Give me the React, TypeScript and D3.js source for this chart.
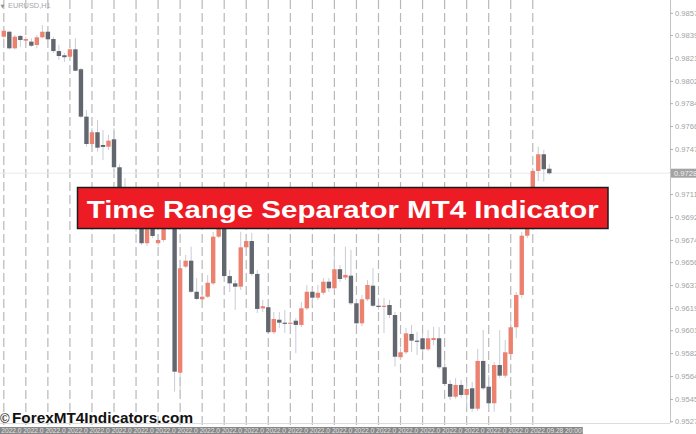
import React from 'react'
import * as d3 from 'd3'

const WIDTH = 696
const HEIGHT = 434
const PLOT_RIGHT = 670
const PLOT_BOTTOM = 423
const FONT = 'Liberation Sans, Arial, sans-serif'

// EURUSD H1, oldest bar first
const opens = [
  0.98386, 0.98426, 0.98292, 0.98392, 0.98354, 0.98346, 0.98319, 0.98381, 0.98426, 0.98367,
  0.9827, 0.98236, 0.98224, 0.98284, 0.98123, 0.9774, 0.97519, 0.97614, 0.97511, 0.97497,
  0.97557, 0.97331, 0.96986, 0.97067, 0.96921, 0.96889, 0.96717, 0.96905, 0.96717, 0.96743,
  0.96889, 0.96856, 0.95671, 0.96528, 0.96576, 0.96325, 0.96264, 0.96285, 0.96393, 0.9677,
  0.96889, 0.96452, 0.96393, 0.96366, 0.96684, 0.96735, 0.96469, 0.96191, 0.962, 0.95998,
  0.96099, 0.96075, 0.9607, 0.96091, 0.96057, 0.96191, 0.96325, 0.96277, 0.96317, 0.96406,
  0.96353, 0.96507, 0.96439, 0.96455, 0.96232, 0.9607, 0.96264, 0.96374, 0.96212, 0.96208,
  0.96218, 0.96137, 0.95796, 0.95836, 0.95984, 0.9593, 0.95949, 0.9586, 0.95935, 0.95949,
  0.95715, 0.9558, 0.95477, 0.95572, 0.95491, 0.95545, 0.9538, 0.95766, 0.95558, 0.95424,
  0.95733, 0.95647, 0.95822, 0.96038, 0.96299, 0.96778, 0.96945, 0.97301, 0.97436, 0.97319,
]
const highs = [
  0.98456, 0.98434, 0.984, 0.984, 0.98386, 0.98373, 0.984, 0.9848, 0.98434, 0.98386,
  0.98319, 0.98254, 0.98313, 0.98373, 0.98133, 0.97794, 0.97648, 0.97713, 0.97632, 0.97592,
  0.97648, 0.97355, 0.97244, 0.97172, 0.97026, 0.96945, 0.96945, 0.96945, 0.96776, 0.96986,
  0.97067, 0.96945, 0.96582, 0.96622, 0.96689, 0.96436, 0.9638, 0.96461, 0.96808, 0.96945,
  0.96921, 0.96501, 0.9642, 0.9681, 0.96784, 0.968, 0.96501, 0.96259, 0.96259, 0.96161,
  0.96161, 0.96178, 0.96113, 0.96113, 0.96242, 0.9638, 0.96355, 0.9638, 0.96436, 0.96436,
  0.96663, 0.96541, 0.96689, 0.96663, 0.96259, 0.96299, 0.9642, 0.96517, 0.96275, 0.96275,
  0.96259, 0.96161, 0.95871, 0.96032, 0.96057, 0.96, 0.95992, 0.96016, 0.9604, 0.9604,
  0.95774, 0.95612, 0.95628, 0.95612, 0.95588, 0.95596, 0.95863, 0.96016, 0.95653, 0.95757,
  0.96016, 0.95935, 0.96097, 0.96323, 0.96808, 0.97026, 0.97325, 0.97497, 0.97471, 0.97355,
]
const lows = [
  0.98373, 0.98284, 0.98284, 0.98303, 0.98346, 0.98303, 0.98292, 0.98373, 0.98354, 0.98254,
  0.98198, 0.98182, 0.9822, 0.98109, 0.97729, 0.97497, 0.97495, 0.97457, 0.9739, 0.97471,
  0.97315, 0.97026, 0.96945, 0.96889, 0.96808, 0.96703, 0.96695, 0.96759, 0.96695, 0.96727,
  0.96824, 0.95518, 0.95518, 0.96517, 0.96315, 0.96259, 0.96242, 0.96275, 0.9638, 0.96759,
  0.96436, 0.96323, 0.96178, 0.96339, 0.96646, 0.96452, 0.96153, 0.96161, 0.95992, 0.95984,
  0.96032, 0.95992, 0.96048, 0.95828, 0.9604, 0.96178, 0.96218, 0.96259, 0.96299, 0.96323,
  0.96339, 0.96404, 0.9642, 0.96218, 0.96057, 0.96048, 0.9625, 0.96202, 0.96178, 0.95992,
  0.96113, 0.9572, 0.95774, 0.95822, 0.95838, 0.95814, 0.95838, 0.95846, 0.95895, 0.95701,
  0.95564, 0.95451, 0.95459, 0.95467, 0.95394, 0.95356, 0.95362, 0.95531, 0.9537, 0.95356,
  0.95628, 0.95628, 0.95806, 0.95951, 0.96275, 0.96759, 0.96921, 0.9722, 0.97214, 0.97269,
]
const closes = [
  0.98434, 0.98292, 0.98386, 0.98359, 0.98367, 0.98313, 0.98381, 0.98426, 0.98365, 0.9827,
  0.9823, 0.9822, 0.98284, 0.98111, 0.9774, 0.97519, 0.97614, 0.97489, 0.97495, 0.97546,
  0.97331, 0.97067, 0.97067, 0.96921, 0.96889, 0.96717, 0.96905, 0.96776, 0.96743, 0.96889,
  0.96856, 0.95679, 0.96515, 0.96576, 0.96325, 0.96267, 0.96285, 0.96398, 0.9677, 0.96889,
  0.96452, 0.96393, 0.96366, 0.96684, 0.96735, 0.96469, 0.96186, 0.96208, 0.95998, 0.96105,
  0.96075, 0.9607, 0.96075, 0.96057, 0.96191, 0.96325, 0.96277, 0.96317, 0.96406, 0.96353,
  0.96507, 0.96428, 0.96461, 0.96232, 0.9607, 0.96264, 0.9638, 0.96212, 0.96208, 0.96212,
  0.96137, 0.958, 0.95836, 0.95989, 0.9593, 0.95923, 0.9586, 0.95949, 0.95951, 0.95715,
  0.9558, 0.95477, 0.95572, 0.95491, 0.95539, 0.9538, 0.95766, 0.95545, 0.95424, 0.95733,
  0.95647, 0.95836, 0.96038, 0.96299, 0.96778, 0.96945, 0.97301, 0.97436, 0.97315, 0.97283,
]

const priceTicks = [
  '0.98575', '0.98395', '0.98210', '0.98025', '0.97845', '0.97660', '0.97475', '0.97290',
  '0.97110', '0.96925', '0.96740', '0.96560', '0.96375', '0.96190', '0.96010', '0.95825',
  '0.95640', '0.95455', '0.95275',
]

// one separator every 4 bars
const separatorTimes = [
  '2022.09.22 20:00', '2022.09.23 00:00', '2022.09.23 04:00', '2022.09.23 08:00',
  '2022.09.23 12:00', '2022.09.23 16:00', '2022.09.23 20:00', '2022.09.26 00:00',
  '2022.09.26 04:00', '2022.09.26 08:00', '2022.09.26 12:00', '2022.09.26 16:00',
  '2022.09.26 20:00', '2022.09.27 00:00', '2022.09.27 04:00', '2022.09.27 08:00',
  '2022.09.27 12:00', '2022.09.27 16:00', '2022.09.27 20:00', '2022.09.28 00:00',
  '2022.09.28 04:00', '2022.09.28 08:00', '2022.09.28 12:00', '2022.09.28 16:00',
  '2022.09.28 20:00',
]

const symbolLabel = 'EURUSD,H1'
const bannerTitle = 'Time Range Separator MT4 Indicator'
const watermark = 'ForexMT4Indicators.com'

const UP = '#ec8170'
const DOWN = '#62666e'
const WICK = '#c9ccd6'

export default function App() {
  const x = d3.scaleLinear().domain([0, opens.length - 1]).range([3.8, 549.3])
  const y = d3.scaleLinear().domain([0.95275, 0.98575]).range([421.7, 13.3])

  const candles = opens.map((o, i) => ({ i, o, h: highs[i], l: lows[i], c: closes[i] }))
  const seps = separatorTimes.map((t, k) => ({ t, i: k * 4 }))
  const last = closes[closes.length - 1]
  const bodyW = 4.4

  return (
    <div style={{ position: 'fixed', left: 0, top: 0 }}>
      <svg width={WIDTH} height={HEIGHT} style={{ display: 'block', background: '#fff' }}>
        {/* time range separators */}
        {seps.map((s) => (
          <line
            key={'sep' + s.i}
            x1={x(s.i)}
            x2={x(s.i)}
            y1={0}
            y2={PLOT_BOTTOM + 4}
            stroke="#b8b8b8"
            strokeWidth={1.2}
            strokeDasharray="9,4"
          />
        ))}

        {/* bid line */}
        <line x1={0} x2={PLOT_RIGHT} y1={y(last)} y2={y(last)} stroke="#e6e9ee" strokeWidth={1} />

        {/* candles */}
        {candles.map((d) => {
          const up = d.c >= d.o
          const top = y(Math.max(d.o, d.c))
          const bot = y(Math.min(d.o, d.c))
          return (
            <g key={'c' + d.i}>
              <line x1={x(d.i)} x2={x(d.i)} y1={y(d.h)} y2={y(d.l)} stroke={WICK} strokeWidth={1} />
              <rect
                x={x(d.i) - bodyW / 2}
                y={top}
                width={bodyW}
                height={Math.max(1.2, bot - top)}
                fill={up ? UP : DOWN}
              />
            </g>
          )
        })}

        {/* frame */}
        <line x1={PLOT_RIGHT + 0.5} x2={PLOT_RIGHT + 0.5} y1={0} y2={PLOT_BOTTOM} stroke="#c4c4c4" />
        <line x1={0} x2={PLOT_RIGHT} y1={PLOT_BOTTOM + 0.5} y2={PLOT_BOTTOM + 0.5} stroke="#dcdcdc" />

        {/* price scale */}
        {priceTicks.map((t) => (
          <g key={t} transform={`translate(0,${y(+t)})`}>
            <line x1={PLOT_RIGHT} x2={PLOT_RIGHT + 3} stroke="#b0b0b0" />
            <text x={PLOT_RIGHT + 5} dy="0.35em" fontFamily={FONT} fontSize={7.6} fill="#a2a2a2">
              {t}
            </text>
          </g>
        ))}
        <rect x={PLOT_RIGHT + 1} y={y(last) - 4.5} width={27} height={9} fill="#a3a3a3" />
        <text x={PLOT_RIGHT + 4} y={y(last)} dy="0.35em" fontFamily={FONT} fontSize={7.6} fill="#f2f2f2">
          {d3.format('.5f')(last)}
        </text>

        {/* separator time labels */}
        {seps.map((s) => (
          <g key={'lab' + s.i} transform={`translate(${x(s.i) - 4},427)`}>
            <rect width={54} height={10} fill="#878787" />
            <text x={1.5} y={6.3} fontFamily={FONT} fontSize={6.6} fill="#e4e4e4">
              {s.t}
            </text>
          </g>
        ))}

        {/* symbol caption */}
        <text x={0.5} y={7.5} fontFamily="DejaVu Sans, sans-serif" fontSize={5} fill="#8d9298">
          ▼
        </text>
        <text x={8} y={8} fontFamily={FONT} fontSize={7.4} fill="#a4a8ae">
          {symbolLabel}
        </text>

        {/* banner */}
        <rect x={77.5} y={187.5} width={530.5} height={41} fill="#ed1c24" stroke="#1c1c1c" strokeWidth={1.5} />
        <text
          x={342.7}
          y={217.6}
          textAnchor="middle"
          fontFamily={FONT}
          fontWeight="bold"
          fontSize={24.5}
          fill="#ffffff"
          textLength={512}
          lengthAdjust="spacingAndGlyphs"
        >
          {bannerTitle}
        </text>

        {/* watermark */}
        <text x={0} y={422.5} fontFamily={FONT} fontSize={13} fill="#111">
          ©
        </text>
        <text
          x={12}
          y={422.8}
          fontFamily={FONT}
          fontWeight="bold"
          fontSize={15}
          fill="#111"
          textLength={181}
          lengthAdjust="spacingAndGlyphs"
        >
          {watermark}
        </text>
      </svg>
    </div>
  )
}
